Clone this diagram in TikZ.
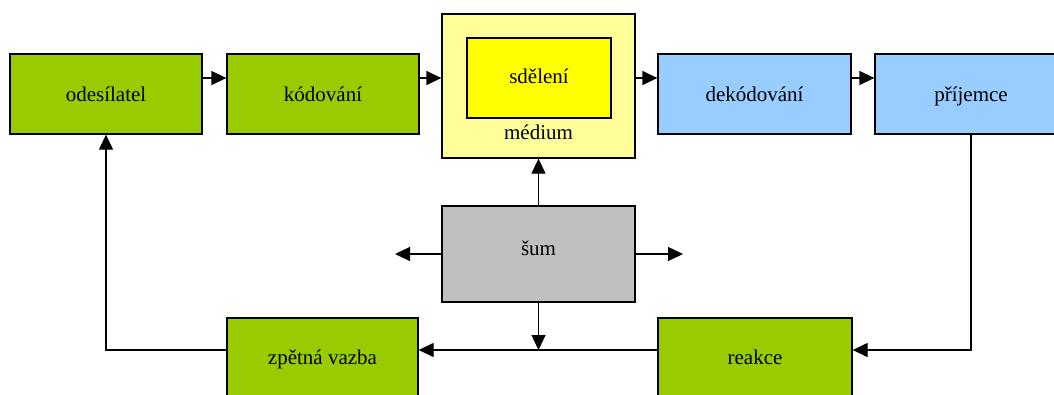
\documentclass[tikz,border=0pt]{standalone}
\usepackage{fontspec}
\setmainfont{Liberation Serif}
\usetikzlibrary{arrows.meta}
\definecolor{cgreen}{HTML}{99CC00}
\definecolor{cblue}{HTML}{99CCFF}
\definecolor{cpale}{HTML}{FFFF99}
\definecolor{cyel}{HTML}{FFFF00}
\definecolor{cgray}{HTML}{C0C0C0}
\tikzset{
  txt/.style={font=\fontsize{21}{25}\selectfont, text height=19pt, text depth=5pt},
  box/.style={draw=black, line width=1.3pt, rectangle, inner sep=0pt,
    minimum width=192pt, minimum height=80pt, txt},
  green box/.style={box, fill=cgreen},
  blue box/.style={box, fill=cblue},
  lbl/.style={inner sep=0pt, txt},
  arr/.style={line width=1.3pt, -{Triangle[length=15pt,width=14pt]}},
}
\begin{document}
\begin{tikzpicture}[x=1pt,y=-1pt]
\useasboundingbox (0,0) rectangle (1054,394);
\clip (0,0) rectangle (1054,394);
\fill[white] (0,0) rectangle (1054,394);
\node[green box] (odes) at (106,94) {odesílatel};
\node[green box] (kod) at (323,94) {kódování};
\node[box, fill=cpale, minimum width=193pt, minimum height=144pt] (med) at (538.5,86) {};
\node[box, fill=cyel, minimum width=144pt, minimum height=80pt] (sdel) at (539,78) {};
\node[lbl] (sdell) at (539,76) {sdělení};
\node[lbl] (medl) at (538.5,132) {médium};
\node[blue box, minimum width=193pt] (dek) at (754.5,94) {dekódování};
\node[blue box] (pri) at (971,94) {příjemce};
\node[box, fill=cgray, minimum width=193pt, minimum height=96pt] (sum) at (538.5,254) {};
\node[lbl] (suml) at (538.5,248) {šum};
\node[green box, minimum width=191pt] (zpe) at (322.5,358) {};
\node[lbl] (zpel) at (322.5,357) {zpětná vazba};
\node[green box, minimum width=194pt] (rea) at (755,358) {};
\node[lbl] (real) at (755,357) {reakce};
\coordinate (nl) at (395,254);
\coordinate (nr) at (683,254);
\coordinate (fb) at ([yshift=8pt]rea.west);
\draw[arr] ([yshift=16pt]odes.east) -- ([yshift=16pt]kod.west);
\draw[arr] ([yshift=16pt]kod.east) -- ([yshift=16pt]kod.east -| med.west);
\draw[arr] ([yshift=16pt]dek.west -| med.east) -- ([yshift=16pt]dek.west);
\draw[arr] ([yshift=16pt]dek.east) -- ([yshift=16pt]pri.west);
\draw[arr] (pri.south) |- ([yshift=8pt]rea.east);
\draw[arr] (fb) -- ([yshift=8pt]zpe.east);
\draw[arr] ([yshift=8pt]zpe.west) -| (odes.south);
\draw[arr] (sum.north) -- (med.south);
\draw[arr] (sum.south) -- (fb -| sum.south);
\draw[arr] (sum.west) -- (nl);
\draw[arr] (sum.east) -- (nr);
\end{tikzpicture}
\end{document}
